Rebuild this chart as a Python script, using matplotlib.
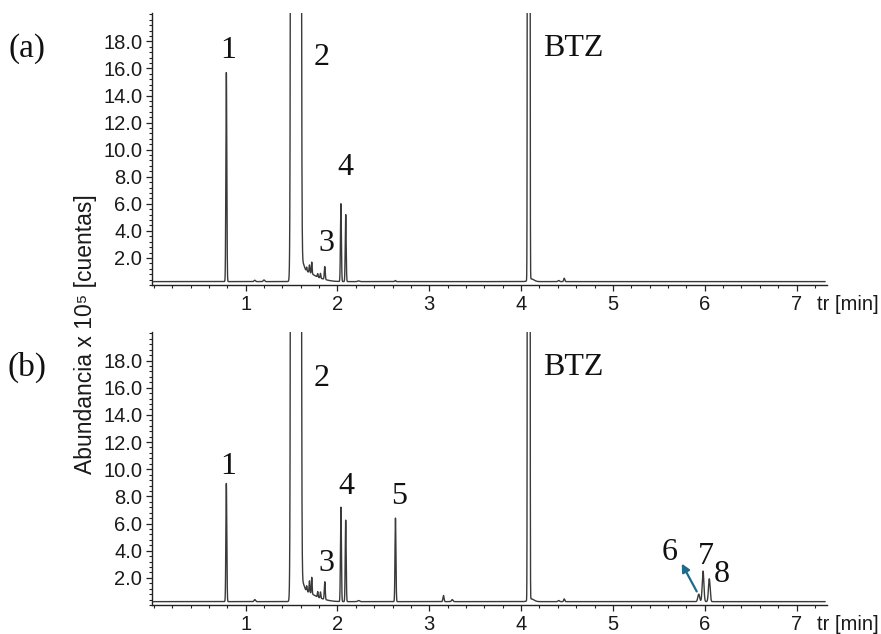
import numpy as np
import matplotlib
matplotlib.use("Agg")
import matplotlib.pyplot as plt
from matplotlib.ticker import MultipleLocator, FixedLocator

plt.rcParams['font.family'] = ['Liberation Sans', 'DejaVu Sans']

# Peak tables (retention time [min], height [x10^5 counts], width sigma [min])
# Run (a)
times_a = [0.790, 1.100, 1.200, 1.548, 1.620, 1.660, 1.750,
           1.665, 1.695, 1.720, 1.785, 1.815, 1.862,
           2.038, 2.090, 2.230, 2.630, 4.083, 4.110, 4.410, 4.470]
heights_a = [15.45, 0.10, 0.12, 1e5, 0.80, 0.50, 0.30,
             0.30, 0.55, 0.85, 0.25, 0.35, 0.95,
             5.75, 4.95, 0.05, 0.08, 5000, 0.20, 0.08, 0.25]
widths_a = [0.005, 0.008, 0.008, 0.015, 0.020, 0.060, 0.100,
            0.004, 0.004, 0.004, 0.004, 0.004, 0.005,
            0.005, 0.005, 0.010, 0.006, 0.005, 0.030, 0.008, 0.006]

# Run (b)
times_b = [0.790, 1.100, 1.548, 1.620, 1.660, 1.750,
           1.665, 1.695, 1.720, 1.785, 1.815, 1.862,
           2.038, 2.090, 2.230, 2.632, 3.155, 3.250,
           4.083, 4.110, 4.410, 4.470, 5.935, 5.982, 6.050]
heights_b = [8.70, 0.15, 1e5, 0.80, 0.50, 0.30,
             0.40, 0.85, 1.20, 0.40, 0.45, 1.30,
             6.95, 6.00, 0.08, 6.15, 0.45, 0.15,
             5000, 0.20, 0.08, 0.20, 0.55, 2.25, 1.68]
widths_b = [0.005, 0.008, 0.015, 0.020, 0.060, 0.100,
            0.004, 0.004, 0.004, 0.004, 0.004, 0.005,
            0.005, 0.005, 0.010, 0.005, 0.006, 0.008,
            0.005, 0.030, 0.008, 0.006, 0.010, 0.009, 0.009]

baseline = 0.25

# Peak labels: text, time, height
labels_a = [("1", 0.810, 17.3), ("2", 1.828, 16.8), ("3", 1.882, 3.1),
            ("4", 2.089, 8.7), ("BTZ", 4.565, 17.5)]
labels_b = [("1", 0.810, 10.2), ("2", 1.828, 16.7), ("3", 1.882, 3.05),
            ("4", 2.093, 8.7), ("5", 2.670, 8.0), ("BTZ", 4.565, 17.5),
            ("6", 5.622, 3.9), ("7", 6.014, 3.6), ("8", 6.185, 2.25)]


def trace(t, times, heights, widths):
    y = np.full_like(t, baseline)
    for t0, h, s in zip(times, heights, widths):
        y += h * np.exp(-0.5 * ((t - t0) / s) ** 2)
    return y


t = np.linspace(0.0, 7.31, 30000)

fig = plt.figure(figsize=(8.81, 6.34), dpi=100)
ax_a = fig.add_axes([0.1725, 0.5505, 0.766, 0.429])
ax_b = fig.add_axes([0.1725, 0.0457, 0.766, 0.4306])

serif = ['Liberation Serif', 'DejaVu Serif']

for ax, times, heights, widths, labels, tag in [
        (ax_a, times_a, heights_a, widths_a, labels_a, "(a)"),
        (ax_b, times_b, heights_b, widths_b, labels_b, "(b)")]:
    ax.plot(t, trace(t, times, heights, widths), color='#3a3a3a', lw=1.0)
    ax.set_xlim(-0.02, 7.33)
    ax.set_ylim(0, 20.1)
    for side in ['top', 'right']:
        ax.spines[side].set_visible(False)
    for side in ['left', 'bottom']:
        ax.spines[side].set_color('#222222')
        ax.spines[side].set_linewidth(1.0)

    ax.xaxis.set_major_locator(FixedLocator(range(1, 8)))
    ax.xaxis.set_minor_locator(MultipleLocator(0.2))
    ax.yaxis.set_major_locator(FixedLocator(np.arange(2, 19, 2)))
    ax.yaxis.set_minor_locator(MultipleLocator(0.4))
    ax.set_yticklabels([f"{v:.1f}" for v in np.arange(2, 19, 2)])
    ax.tick_params(which='major', length=4, width=0.9, color='#222222',
                   labelsize=14.5, labelcolor='#1a1a1a', pad=3)
    ax.tick_params(which='minor', length=2.5, width=0.8, color='#222222')

    ax.annotate("tr [min]", xy=(7.22, 0), xycoords=('data', 'axes fraction'),
                xytext=(0, -7), textcoords='offset points',
                ha='left', va='top', fontsize=14.5, color='#1a1a1a')

    for txt, x, y in labels:
        ax.text(x, y, txt, ha='center', va='center', fontsize=23,
                family=serif, color='#111111')

    ax.text(-0.185, 0.87, tag, transform=ax.transAxes, ha='center',
            va='center', fontsize=24, family=serif, color='#111111')

# arrow pointing to the shoulder peak 6
ax_b.annotate("", xy=(5.75, 3.05), xytext=(5.913, 1.0),
              arrowprops=dict(arrowstyle='-|>', color='#1f6b8c', lw=1.6,
                              mutation_scale=12, shrinkA=0, shrinkB=0))

fig.text(0.097, 0.473, "Abundancia x 10\u2075 [cuentas]",
         rotation=90, ha='center', va='center', fontsize=16.5, color='#1a1a1a')

fig.savefig("out.png", dpi=100)
